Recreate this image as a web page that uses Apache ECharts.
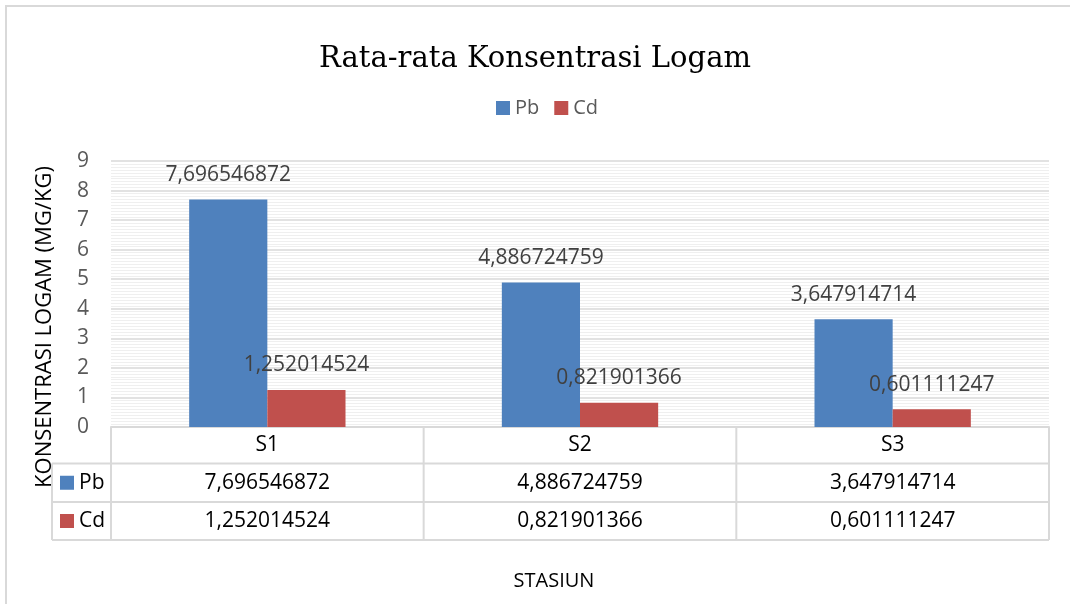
<!DOCTYPE html>
<html>
<head>
<meta charset="utf-8">
<script src="https://cdn.jsdelivr.net/npm/echarts@6/dist/echarts.min.js"></script>
<style>
  html, body { margin: 0; padding: 0; background: #fff; }
  #rataChart { width: 1070px; height: 604px; }
</style>
</head>
<body>
<div id="rataChart"></div>
<script>
// data
const categories = ['S1', 'S2', 'S3'];
const seriesNames = ['Pb', 'Cd'];
const pbValues = [7.696546872, 4.886724759, 3.647914714];
const cdValues = [1.252014524, 0.821901366, 0.601111247];
const seriesColors = ['#4f81bd', '#c0504d'];

const font = 'Open Sans';
// angka pakai koma desimal
const fmt = v => String(v).replace('.', ',');

const myChart = echarts.init(document.getElementById('rataChart'));

const option = {
  backgroundColor: '#fff',
  animation: false,
  title: {
    text: 'Rata-rata Konsentrasi Logam',
    left: 'center',
    top: 40,
    textStyle: {
      fontFamily: 'DejaVu Serif',
      fontSize: 29,
      fontWeight: 'normal',
      color: '#000'
    }
  },
  legend: {
    left: 491,
    top: 93,
    icon: 'rect',
    itemWidth: 14,
    itemHeight: 14,
    itemGap: 15,
    textStyle: { fontFamily: font, fontSize: 20, color: '#595959' },
    data: seriesNames
  },
  grid: { left: 111, right: 21, top: 161, bottom: 177 },
  xAxis: {
    type: 'category',
    data: categories,
    axisLabel: { show: false },
    axisTick: { show: false },
    axisLine: { lineStyle: { color: '#d9d9d9', width: 2 } }
  },
  yAxis: {
    type: 'value',
    min: 0,
    max: 9,
    interval: 1,
    axisLabel: { fontFamily: font, fontSize: 21, color: '#595959', margin: 22 },
    axisLine: { show: false },
    axisTick: { show: false },
    splitLine: { lineStyle: { color: '#d9d9d9', width: 1.5 } },
    minorTick: { show: false, splitNumber: 10 },
    minorSplitLine: { show: true, lineStyle: { color: '#efefef', width: 1 } }
  },
  series: [
    {
      name: seriesNames[0],
      type: 'bar',
      data: pbValues,
      barGap: 0,
      barCategoryGap: '50%',
      itemStyle: { color: seriesColors[0] },
      label: {
        show: true,
        position: 'top',
        distance: 14,
        fontFamily: font,
        fontSize: 21,
        color: '#404040',
        formatter: p => fmt(p.value)
      }
    },
    {
      name: seriesNames[1],
      type: 'bar',
      data: cdValues,
      barGap: 0,
      barCategoryGap: '50%',
      itemStyle: { color: seriesColors[1] },
      label: {
        show: true,
        position: 'top',
        distance: 14,
        fontFamily: font,
        fontSize: 21,
        color: '#404040',
        formatter: p => fmt(p.value)
      }
    }
  ]
};
myChart.setOption(option);

// tabel data di bawah sumbu, posisi kolom dari skala kategori
function buildTable() {
  const centers = categories.map(c => myChart.convertToPixel({ xAxisIndex: 0 }, c));
  const band = centers[1] - centers[0];
  const xLeft = centers[0] - band / 2;
  const xRight = centers[centers.length - 1] + band / 2;
  const y0 = myChart.convertToPixel({ yAxisIndex: 0 }, 0);
  const rows = [y0, y0 + 36.5, y0 + 75, y0 + 113];
  const headLeft = 52;
  const lineColor = '#d9d9d9';
  const els = [];
  const line = (x1, y1, x2, y2) => els.push({
    type: 'line', silent: true,
    shape: { x1, y1, x2, y2 },
    style: { stroke: lineColor, lineWidth: 2 }
  });
  const text = (t, x, y, align, color) => els.push({
    type: 'text', silent: true,
    style: {
      text: t, x, y, align: align, verticalAlign: 'middle',
      fontFamily: font, fontSize: 21, fill: color
    }
  });

  // garis horizontal
  line(xLeft, rows[0], xRight, rows[0]);
  for (let i = 1; i < rows.length; i++) line(headLeft, rows[i], xRight, rows[i]);
  // garis vertikal
  for (let i = 0; i <= categories.length; i++) {
    const x = xLeft + band * i;
    line(x, rows[0], x, rows[3]);
  }
  line(headLeft, rows[1], headLeft, rows[3]);

  // baris kategori
  categories.forEach((c, i) => text(c, centers[i], (rows[0] + rows[1]) / 2, 'center', '#000'));
  // baris nilai
  [pbValues, cdValues].forEach((vals, r) => {
    const yc = (rows[r + 1] + rows[r + 2]) / 2;
    els.push({
      type: 'rect', silent: true,
      shape: { x: 60, y: yc - 7, width: 14, height: 14 },
      style: { fill: seriesColors[r] }
    });
    text(seriesNames[r], 79, yc, 'left', '#000');
    vals.forEach((v, i) => text(fmt(v), centers[i], yc, 'center', '#000'));
  });

  // judul sumbu
  els.push({
    type: 'text', silent: true,
    x: 45, y: 327, rotation: Math.PI / 2,
    style: {
      text: 'KONSENTRASI LOGAM (MG/KG)', x: 0, y: 0,
      align: 'center', verticalAlign: 'middle',
      fontFamily: font, fontSize: 22, fill: '#000'
    }
  });
  els.push({
    type: 'text', silent: true,
    style: {
      text: 'STASIUN', x: 554, y: 581, align: 'center', verticalAlign: 'middle',
      fontFamily: font, fontSize: 20, fill: '#000'
    }
  });

  // bingkai luar (kiri & atas)
  els.push({
    type: 'polyline', silent: true,
    shape: { points: [[6, 604], [6, 6], [1070, 6]] },
    style: { stroke: lineColor, lineWidth: 2, fill: null }
  });

  myChart.setOption({ graphic: { elements: els } });
}
buildTable();

window.addEventListener('resize', () => {
  myChart.resize();
  buildTable();
});
</script>
</body>
</html>
